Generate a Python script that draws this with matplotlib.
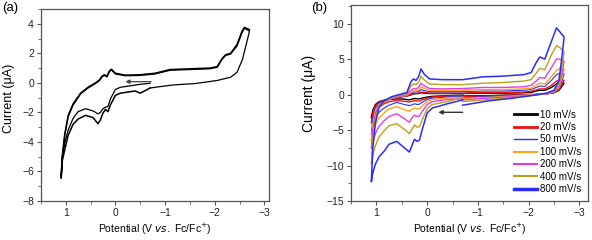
import numpy as np
import matplotlib
matplotlib.use("Agg")
import matplotlib.pyplot as plt
from matplotlib.ticker import MultipleLocator

plt.rcParams['font.family'] = ['Liberation Sans', 'DejaVu Sans']

# ---------------- panel (a): two CV cycles ----------------
Ea_ox = [-0.7, -0.5, -0.4, -0.1, 0.0, 0.1, 0.15, 0.2, 0.25, 0.3, 0.35, 0.45,
         0.6, 0.75, 0.85, 0.95, 1.02, 1.07, 1.09]
ia_ox1 = [-0.03, -0.1, -0.15, -0.3, -0.45, -1.1, -1.6, -1.65, -1.75, -2.0, -2.1,
          -1.9, -1.75, -1.95, -2.4, -3.2, -4.1, -5.0, -6.3]
ia_ox2 = [-0.35, -0.7, -0.55, -0.7, -0.85, -1.5, -1.95, -1.8, -2.05, -2.5, -2.77,
          -2.35, -2.2, -2.45, -2.8, -3.55, -4.55, -5.3, -6.45]

Ea_red = [1.09, 1.07, 1.02, 0.95, 0.85, 0.7, 0.55, 0.4, 0.32, 0.27, 0.22, 0.17,
          0.12, 0.08, 0.0, -0.2, -0.5, -0.8, -1.1, -1.5, -1.9, -2.05, -2.15,
          -2.22, -2.32, -2.45, -2.55, -2.6, -2.7]
ia_red1 = [-6.45, -5.2, -3.6, -2.3, -1.5, -0.75, -0.35, -0.05, 0.15, 0.4, 0.5,
           0.4, 0.75, 0.88, 0.6, 0.48, 0.5, 0.6, 0.85, 0.9, 0.95, 1.05, 1.6,
           1.85, 1.95, 2.5, 3.4, 3.7, 3.5]
ia_red2 = [-6.3, -5.0, -3.5, -2.2, -1.42, -0.7, -0.3, 0.0, 0.2, 0.45, 0.55,
           0.45, 0.8, 0.92, 0.65, 0.52, 0.55, 0.65, 0.9, 0.95, 1.0, 1.1, 1.65,
           1.9, 2.0, 2.6, 3.5, 3.75, 3.6]

Ea_back = [-2.7, -2.66, -2.56, -2.45, -2.32, -2.05, -1.6, -1.17, -0.8, -0.7]
ia_back = [3.5, 2.95, 1.6, 0.72, 0.38, 0.16, -0.05, -0.14, -0.3, -0.35]

# ---------------- panel (b): scan-rate series ----------------
rates = ['10 mV/s', '20 mV/s', '50 mV/s', '100 mV/s', '200 mV/s', '400 mV/s', '800 mV/s']
colors = ['black', '#ee1111', '#2233ff', '#ffa31a', '#e23ee2', '#b9a21a', '#2b2bff']
widths = [1.0, 1.0, 0.8, 1.0, 1.0, 1.0, 1.1]
leg_widths = [2.0, 2.0, 1.0, 1.5, 1.5, 1.5, 2.5]

Eb_ox = [-0.7, -0.4, -0.1, 0.0, 0.1, 0.15, 0.2, 0.25, 0.3, 0.35, 0.45, 0.6,
         0.75, 0.85, 0.95, 1.02, 1.07, 1.1]
ib_ox = [
    [-0.1, -0.15, -0.25, -0.35, -0.5, -0.6, -0.6, -0.55, -0.65, -0.75, -0.65, -0.6, -0.7, -0.9, -1.3, -1.9, -2.6, -3.3],
    [-0.15, -0.2, -0.35, -0.5, -0.75, -0.9, -0.9, -0.85, -0.95, -1.05, -0.95, -0.85, -1.0, -1.3, -1.8, -2.5, -3.3, -4.0],
    [-0.3, -0.35, -0.5, -0.7, -1.1, -1.35, -1.4, -1.3, -1.45, -1.55, -1.4, -1.1, -1.5, -1.9, -2.5, -3.3, -4.4, -5.6],
    [-0.4, -0.5, -0.7, -1.0, -1.6, -2.0, -2.0, -1.9, -2.1, -2.35, -2.1, -1.7, -2.0, -2.6, -3.3, -4.2, -5.3, -6.5],
    [-0.6, -0.7, -1.0, -1.4, -2.4, -3.0, -3.1, -2.9, -3.3, -3.9, -3.4, -2.7, -3.1, -3.7, -4.5, -5.5, -6.6, -7.6],
    [-0.4, -1.0, -1.4, -2.0, -3.6, -4.5, -4.6, -4.3, -4.9, -5.5, -4.9, -4.1, -4.4, -5.1, -6.0, -7.2, -8.5, -9.7],
    [-0.75, -1.3, -1.9, -2.6, -5.0, -6.4, -6.6, -6.3, -7.2, -8.1, -7.5, -6.6, -7.0, -8.0, -8.8, -9.8, -11.0, -12.3],
]

Eb_red = [1.1, 1.07, 1.02, 0.95, 0.85, 0.7, 0.55, 0.4, 0.32, 0.27, 0.22, 0.17,
          0.12, 0.05, -0.05, -0.3, -0.7, -1.1, -1.5, -1.9, -2.05, -2.15, -2.22,
          -2.32, -2.45, -2.55, -2.62, -2.7]
ib_red = [
    [-3.3, -2.2, -1.4, -1.0, -0.8, -0.5, -0.35, -0.2, -0.05, 0.1, 0.12, 0.15, 0.25, 0.2, 0.15, 0.15, 0.15, 0.2, 0.2, 0.25, 0.3, 0.5, 0.6, 0.6, 1.0, 1.5, 1.7, 1.6],
    [-4.0, -2.6, -1.6, -1.1, -0.85, -0.55, -0.4, -0.2, 0.0, 0.15, 0.15, 0.2, 0.35, 0.3, 0.2, 0.2, 0.2, 0.3, 0.3, 0.35, 0.45, 0.65, 0.8, 0.8, 1.3, 1.9, 2.1, 2.0],
    [-5.6, -3.4, -1.9, -1.2, -0.9, -0.55, -0.35, -0.15, 0.15, 0.35, 0.35, 0.45, 0.7, 0.55, 0.4, 0.4, 0.4, 0.5, 0.5, 0.6, 0.7, 1.0, 1.2, 1.15, 2.0, 2.8, 3.0, 2.9],
    [-6.5, -4.2, -2.2, -1.4, -1.0, -0.55, -0.3, -0.1, 0.3, 0.55, 0.5, 0.65, 1.1, 0.85, 0.6, 0.6, 0.6, 0.7, 0.7, 0.8, 0.9, 1.3, 1.6, 1.5, 2.5, 3.4, 3.7, 3.6],
    [-7.6, -5.0, -2.6, -1.6, -1.1, -0.55, -0.25, 0.0, 0.6, 0.85, 0.8, 1.0, 1.6, 1.2, 0.85, 0.8, 0.85, 1.0, 1.0, 1.1, 1.3, 1.9, 2.4, 2.3, 3.8, 5.0, 5.0, 4.7],
    [-9.7, -6.2, -3.2, -1.8, -1.1, -0.45, -0.1, 0.15, 1.2, 1.5, 1.4, 1.7, 2.6, 2.0, 1.5, 1.4, 1.4, 1.6, 1.7, 1.9, 2.1, 3.0, 3.7, 3.5, 5.6, 6.9, 6.6, 6.0],
    [-12.3, -7.5, -4.0, -1.8, -0.9, -0.3, 0.0, 0.3, 1.8, 2.2, 2.0, 2.5, 3.6, 2.8, 2.2, 2.1, 2.1, 2.5, 2.6, 2.8, 3.1, 4.5, 5.3, 5.0, 7.5, 9.4, 8.8, 8.1],
]

Eb_back = [-2.7, -2.66, -2.6, -2.5, -2.35, -2.1, -1.7, -1.2, -0.7]
ib_back = [
    [1.6, 1.2, 0.6, 0.25, 0.1, 0.0, -0.05, -0.15, -0.2],
    [2.0, 1.5, 0.7, 0.3, 0.1, 0.0, -0.1, -0.2, -0.3],
    [2.9, 2.0, 0.9, 0.3, 0.1, 0.0, -0.15, -0.3, -0.45],
    [3.6, 2.4, 1.0, 0.35, 0.1, 0.0, -0.2, -0.4, -0.55],
    [4.7, 3.0, 1.2, 0.4, 0.1, -0.05, -0.3, -0.5, -0.75],
    [6.0, 4.0, 1.5, 0.5, 0.15, -0.1, -0.4, -0.7, -1.0],
    [8.1, 5.5, 2.0, 0.6, 0.2, -0.1, -0.5, -0.9, -1.5],
]

fig = plt.figure(figsize=(5.92, 2.4), dpi=100)
ax1 = fig.add_axes([0.069, 0.1625, 0.386, 0.8])
ax2 = fig.add_axes([0.593, 0.1625, 0.401, 0.816])

frame = '#555555'


def style_axes(ax, major_y, minor_y, ylabel_size, ylabel_xy):
    ax.xaxis.set_major_locator(MultipleLocator(1))
    ax.xaxis.set_minor_locator(MultipleLocator(0.5))
    ax.yaxis.set_major_locator(MultipleLocator(major_y))
    ax.yaxis.set_minor_locator(MultipleLocator(minor_y))
    ax.tick_params(which='both', direction='out', top=False, right=False,
                   labelsize=7.5, colors='#222222', pad=2)
    ax.tick_params(which='major', length=3, width=0.8, color=frame)
    ax.tick_params(which='minor', length=2, width=0.6, color=frame)
    for s in ax.spines.values():
        s.set_color(frame)
        s.set_linewidth(0.9)
    ax.set_xlabel('Potential (V $\\it{vs.}$ Fc/Fc$^{+}$)', fontsize=7.5, labelpad=3)
    ax.set_ylabel('Current (\u03bcA)', fontsize=ylabel_size)
    ax.yaxis.set_label_coords(*ylabel_xy)


# panel (a)
ax1.plot(Ea_ox + Ea_red + Ea_back, ia_ox1 + ia_red1 + ia_back, color='black', lw=0.9)
ax1.plot(Ea_back[-1:] + Ea_ox + Ea_red, ia_back[-1:] + ia_ox2 + ia_red2, color='black', lw=1.1)
ax1.annotate('', xy=(-0.2, 0.08), xytext=(-0.72, 0.08),
             arrowprops=dict(arrowstyle='-|>', color='#444444', lw=0.9,
                             mutation_scale=6, shrinkA=0, shrinkB=0))
ax1.set_xlim(1.5, -3.1)
ax1.set_ylim(-8, 5)
style_axes(ax1, 2, 1, 9, (-0.115, 0.535))
fig.text(0.003, 0.965, '(a)', fontsize=9.5, va='center')

# panel (b)
for k in range(len(rates)):
    ax2.plot(Eb_ox + Eb_red + Eb_back, ib_ox[k] + ib_red[k] + ib_back[k],
             color=colors[k], lw=widths[k], label=rates[k])
ax2.annotate('', xy=(-0.22, -2.5), xytext=(-0.7, -2.5),
             arrowprops=dict(arrowstyle='-|>', color='#333333', lw=1.0,
                             mutation_scale=6, shrinkA=0, shrinkB=0))
ax2.set_xlim(1.5, -3.18)
ax2.set_ylim(-15, 12.6)
style_axes(ax2, 5, 2.5, 10, (-0.148, 0.55))
leg = ax2.legend(loc='lower right', bbox_to_anchor=(1.0, 0.0), frameon=False,
                 fontsize=7, handlelength=2.4, handletextpad=0.3,
                 labelspacing=0.25, borderaxespad=0.3)
for line, w in zip(leg.get_lines(), leg_widths):
    line.set_linewidth(w)
fig.text(0.526, 0.965, '(b)', fontsize=9.5, va='center')

fig.savefig('out.png', dpi=100)
